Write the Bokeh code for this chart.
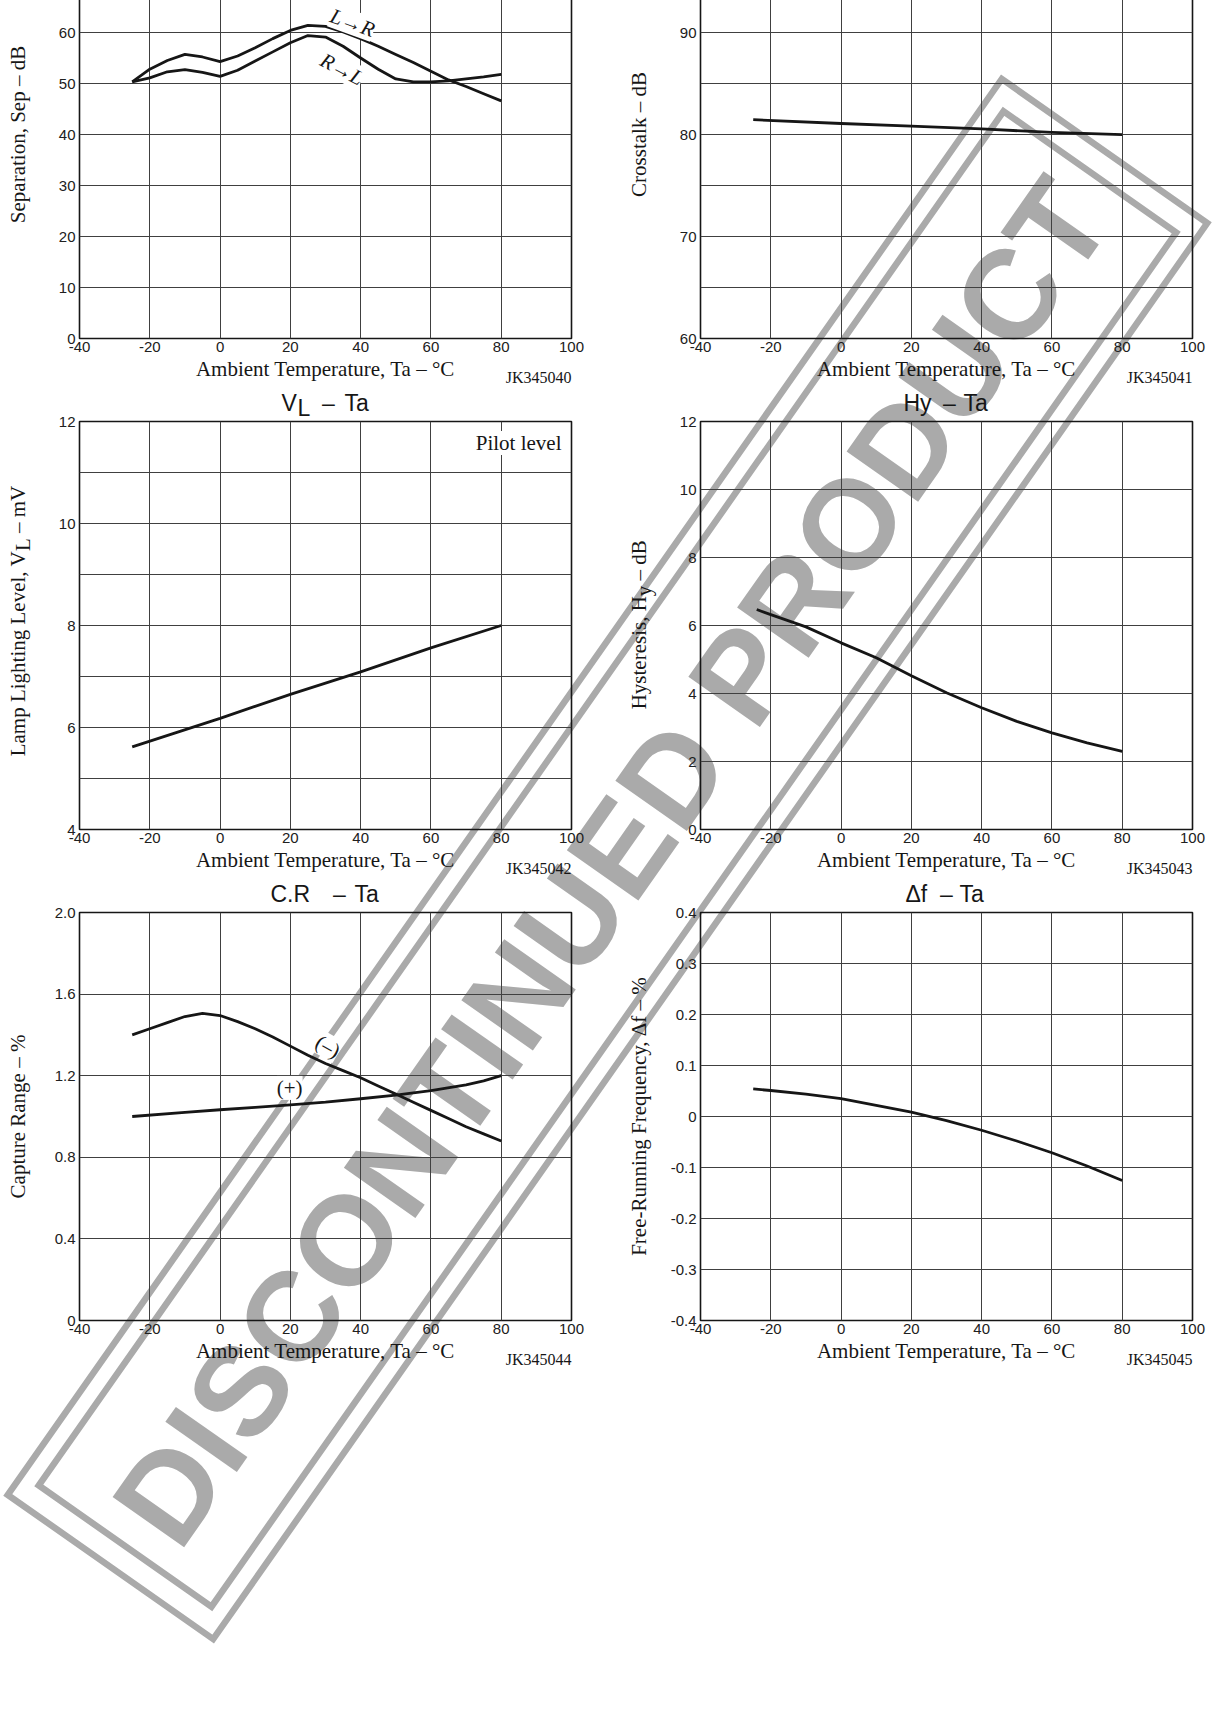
import math
import numpy as np
from bokeh.plotting import figure
from bokeh.models import Range1d, FixedTicker, Label
from bokeh.layouts import column, row
from bokeh.embed import file_html
from bokeh.resources import INLINE
from bokeh.core.properties import value

# ---------------- data ----------------
temp_ticks = [-40, -20, 0, 20, 40, 60, 80, 100]
temp_tick_labels = ["-40", "-20", "0", "20", "40", "60", "80", "100"]

# Separation (dB) vs ambient temperature
sep_temp = [-25, -20, -15, -10, -5, 0, 5, 10, 15, 20, 25, 30, 35, 40, 45, 50, 55, 60, 65, 70, 75, 80]
sep_l_to_r = [50.3, 52.8, 54.5, 55.7, 55.2, 54.3, 55.4, 57.0, 58.8, 60.4, 61.4, 61.2, 60.1, 58.8,
              57.3, 55.7, 54.1, 52.4, 50.7, 49.4, 48.0, 46.6]
sep_r_to_l = [50.3, 51.1, 52.3, 52.7, 52.2, 51.4, 52.6, 54.4, 56.2, 58.0, 59.4, 59.1, 57.3, 55.0,
              52.8, 50.9, 50.3, 50.3, 50.5, 50.9, 51.3, 51.8]
sep_label_ticks = [0, 10, 20, 30, 40, 50, 60]
sep_grid_ticks = [0, 10, 20, 30, 40, 50, 60, 70, 80]

# Crosstalk (dB)
xtalk_temp = [-25, 0, 20, 40, 60, 80]
xtalk_db = [81.45, 81.08, 80.83, 80.55, 80.2, 79.98]
xtalk_label_ticks = [60, 70, 80, 90]
xtalk_grid_ticks = [60, 65, 70, 75, 80, 85, 90, 95, 100]

# Lamp lighting level (mV)
vl_temp = [-25, 0, 20, 40, 60, 80]
vl_mv = [5.62, 6.18, 6.65, 7.09, 7.56, 8.0]
vl_label_ticks = [4, 6, 8, 10, 12]
vl_grid_ticks = [4, 5, 6, 7, 8, 9, 10, 11, 12]

# Hysteresis (dB)
hy_temp = [-24, -20, -10, 0, 10, 20, 30, 40, 50, 60, 70, 80]
hy_db = [6.47, 6.32, 5.96, 5.49, 5.05, 4.52, 4.02, 3.58, 3.18, 2.84, 2.55, 2.30]
hy_ticks = [0, 2, 4, 6, 8, 10, 12]

# Capture range (%)
cr_minus_temp = [-25, -20, -15, -10, -5, 0, 5, 10, 15, 20, 25, 30, 35, 40, 45, 50, 55, 60, 65, 70, 75, 80]
cr_minus = [1.40, 1.43, 1.46, 1.49, 1.505, 1.495, 1.465, 1.43, 1.39, 1.345, 1.30, 1.26, 1.225,
            1.19, 1.15, 1.11, 1.07, 1.03, 0.99, 0.95, 0.915, 0.88]
cr_plus_temp = [-25, -10, 0, 10, 20, 30, 40, 50, 60, 70, 75, 80]
cr_plus = [1.00, 1.02, 1.033, 1.045, 1.057, 1.07, 1.087, 1.105, 1.127, 1.155, 1.175, 1.20]
cr_ticks = [0, 0.4, 0.8, 1.2, 1.6, 2.0]
cr_tick_labels = ["0", "0.4", "0.8", "1.2", "1.6", "2.0"]

# Free-running frequency (%)
df_temp = [-25, -20, -10, 0, 10, 20, 30, 40, 50, 60, 70, 80]
df_pct = [0.054, 0.051, 0.044, 0.035, 0.022, 0.0085, -0.008, -0.027, -0.048, -0.071, -0.097, -0.1255]
df_ticks = [-0.4, -0.3, -0.2, -0.1, 0, 0.1, 0.2, 0.3, 0.4]
df_tick_labels = ["-0.4", "-0.3", "-0.2", "-0.1", "0", "0.1", "0.2", "0.3", "0.4"]

# ---------------- styling / page geometry ----------------
SANS = "Liberation Sans"
SERIF = "Liberation Serif"
INK = "#161616"
GRID = "#404040"
CURVE_W = 2.8
WM_GREY = "#aaaaaa"

PAGE_W, PAGE_H = 1216, 1722
COL_X = [0, 621]            # left edge of each chart column on the page
COL_W = [621, 595]
ROW_Y = [-105, 386, 877]    # top edge of each chart row on the page
ROW_H = 491
BORDER_L, BORDER_T, BORDER_B = 79, 35, 48
FRAME_W, FRAME_H = 492, 408


def frame_box(col, rw):
    left = COL_X[col] + BORDER_L
    top = ROW_Y[rw] + BORDER_T
    return left, top, left + FRAME_W, top + FRAME_H


def panel(col, y0, y1, label_ticks, grid_ticks, tick_labels):
    w = COL_W[col]
    p = figure(width=w, height=ROW_H, x_range=Range1d(-40, 100), y_range=Range1d(y0, y1),
               output_backend="svg", toolbar_location=None,
               min_border_left=BORDER_L, min_border_right=w - BORDER_L - FRAME_W,
               min_border_top=BORDER_T, min_border_bottom=BORDER_B,
               background_fill_color=None, border_fill_color=None,
               outline_line_color=INK, outline_line_width=1.6)
    p.xaxis.ticker = FixedTicker(ticks=temp_ticks)
    p.xgrid.ticker = FixedTicker(ticks=temp_ticks)
    p.xaxis.major_label_overrides = dict(zip(temp_ticks, temp_tick_labels))
    p.yaxis.ticker = FixedTicker(ticks=label_ticks)
    p.ygrid.ticker = FixedTicker(ticks=grid_ticks)
    if tick_labels is not None:
        p.yaxis.major_label_overrides = dict(zip(label_ticks, tick_labels))
    for ax in (p.xaxis[0], p.yaxis[0]):
        ax.axis_line_color = None
        ax.major_tick_line_color = None
        ax.minor_tick_line_color = None
        ax.major_tick_in = 0
        ax.major_tick_out = 0
        ax.minor_tick_in = 0
        ax.minor_tick_out = 0
        ax.major_label_text_font = SANS
        ax.major_label_text_font_size = "15px"
        ax.major_label_text_color = "#202020"
    p.xaxis.major_label_standoff = 3
    p.yaxis.major_label_standoff = 4
    p.xaxis.axis_label = "Ambient Temperature, Ta \u2013 \u00b0C"
    p.xaxis.axis_label_text_font = SERIF
    p.xaxis.axis_label_text_font_size = "21px"
    p.xaxis.axis_label_text_font_style = "normal"
    p.xaxis.axis_label_text_color = INK
    p.xaxis.axis_label_standoff = 2
    p.grid.grid_line_color = GRID
    p.grid.grid_line_width = 1
    return p


def note(p, x, y, text, angle=0.0, italic=False, **kw):
    p.add_layout(Label(x=x, y=y, text=text, angle=angle, text_font=SERIF,
                       text_font_size="21px", text_font_style="italic" if italic else "normal",
                       text_color=INK, background_fill_color="white",
                       text_baseline="middle", **kw))


# ---------------- page layer: stamp and surrounding texts ----------------
wm = figure(width=PAGE_W, height=PAGE_H, x_range=Range1d(0, PAGE_W), y_range=Range1d(PAGE_H, 0),
            output_backend="svg", toolbar_location=None, min_border=0,
            x_axis_type=None, y_axis_type=None, outline_line_color=None,
            background_fill_color="white", border_fill_color="white")

wm_cx, wm_cy = 607.0, 858.5
wm_angle = math.radians(54.93)
u = np.array([math.cos(wm_angle), -math.sin(wm_angle)])   # along the stamp
v = np.array([math.sin(wm_angle), math.cos(wm_angle)])    # across the stamp
for length, breadth in [(1730, 251), (1679, 211)]:
    corners = [np.array([wm_cx, wm_cy]) + a * length / 2 * u + b * breadth / 2 * v
               for a, b in [(-1, -1), (1, -1), (1, 1), (-1, 1)]]
    wm.patch([c[0] for c in corners], [c[1] for c in corners], fill_color=None,
             line_color=WM_GREY, line_width=6.5, line_join="miter")

wm_size = 127
anchor = np.array([wm_cx, wm_cy]) + 5 * v
wm.text(x=[anchor[0]], y=[anchor[1]], text=["DISCONTINUED PRODUCT"], angle=wm_angle,
        text_font=value(SANS), text_font_style="bold", text_font_size=f"{wm_size}px",
        text_color=WM_GREY, text_align="center", text_baseline="middle")


def page_text(x, y, text, font=SERIF, size=21, angle=0.0, align="left"):
    # y is the text's vertical middle (about half a cap height above the baseline)
    wm.add_layout(Label(x=x, y=y, text=text, angle=angle, text_font=font,
                        text_font_size=f"{size}px", text_color=INK,
                        text_align=align, text_baseline="middle"))


def title(col, rw, pieces):
    # pieces: (text, x offset from frame centre, drop below the title baseline, align)
    left, top, right, _ = frame_box(col, rw)
    cx = (left + right) / 2
    base = top - 10
    for text, dx, drop, align in pieces:
        page_text(cx + dx, base + drop - 0.36 * 23, text, font=SANS, size=23, align=align)


def ylabel(col, rw, pieces):
    # pieces: (text, offset up along the label, offset across it, align)
    left, top, _, bottom = frame_box(col, rw)
    cy = (top + bottom) / 2
    for text, along, across, align in pieces:
        page_text(left - 62 + across, cy - along, text, angle=math.pi / 2, align=align)


def code(col, rw, text):
    _, _, right, bottom = frame_box(col, rw)
    page_text(right, bottom + 45 - 0.36 * 16, text, size=16, align="right")


# ---- Sep - Ta ----
p_sep = panel(0, 0, 80, sep_label_ticks, sep_grid_ticks, None)
p_sep.line(sep_temp, sep_l_to_r, line_width=CURVE_W, color=INK, line_join="round")
p_sep.line(sep_temp, sep_r_to_l, line_width=CURVE_W, color=INK, line_join="round")
note(p_sep, 37.7, 61.9, "L\u2192R", angle=math.radians(-20), italic=True, text_align="center")
note(p_sep, 34.7, 52.8, "R\u2192L", angle=math.radians(-28), italic=True, text_align="center")
ylabel(0, 0, [("Separation, Sep \u2013 dB", 0, 0, "center")])
code(0, 0, "JK345040")

# ---- Crosstalk - Ta ----
p_xt = panel(1, 60, 100, xtalk_label_ticks, xtalk_grid_ticks, None)
p_xt.line(xtalk_temp, xtalk_db, line_width=CURVE_W, color=INK, line_join="round")
ylabel(1, 0, [("Crosstalk \u2013 dB", 0, 0, "center")])
code(1, 0, "JK345041")

# ---- VL - Ta ----
p_vl = panel(0, 4, 12, vl_label_ticks, vl_grid_ticks, None)
p_vl.line(vl_temp, vl_mv, line_width=CURVE_W, color=INK)
note(p_vl, 100, 12, "Pilot level", x_offset=-10, y_offset=-21.5, text_align="right")
title(0, 1, [("V", -44, 0, "left"), ("L", -28, 5, "left"),
             ("\u2013", 3, 0, "center"), ("Ta", 19, 0, "left")])
ylabel(0, 1, [("Lamp Lighting Level, V", 74.5, 0, "right"),
              ("L", 74.5, 5, "left"),
              ("\u2013 mV", 92.5, 0, "left")])
code(0, 1, "JK345042")

# ---- Hy - Ta ----
p_hy = panel(1, 0, 12, hy_ticks, hy_ticks, None)
p_hy.line(hy_temp, hy_db, line_width=CURVE_W, color=INK, line_join="round")
title(1, 1, [("Hy", -43, 0, "left"), ("\u2013", 3, 0, "center"), ("Ta", 17, 0, "left")])
ylabel(1, 1, [("Hysteresis, H", 29.3, 0, "right"),
              ("y", 29.3, 5, "left"),
              ("\u2013 dB", 45.0, 0, "left")])
code(1, 1, "JK345043")

# ---- C.R - Ta ----
p_cr = panel(0, 0, 2.0, cr_ticks, cr_ticks, cr_tick_labels)
p_cr.line(cr_minus_temp, cr_minus, line_width=CURVE_W, color=INK, line_join="round")
p_cr.line(cr_plus_temp, cr_plus, line_width=CURVE_W, color=INK, line_join="round")
note(p_cr, 30.7, 1.343, "(\u2013)", angle=math.radians(-30), text_align="center")
note(p_cr, 19.8, 1.14, "(+)", text_align="center")
title(0, 2, [("C.R", -55, 0, "left"), ("\u2013", 14, 0, "center"), ("Ta", 29, 0, "left")])
ylabel(0, 2, [("Capture Range \u2013 %", 0, 0, "center")])
code(0, 2, "JK345044")

# ---- delta f - Ta ----
p_df = panel(1, -0.4, 0.4, df_ticks, df_ticks, df_tick_labels)
p_df.line(df_temp, df_pct, line_width=CURVE_W, color=INK, line_join="round")
title(1, 2, [("\u0394f", -41, 0, "left"), ("\u2013", 0, 0, "center"), ("Ta", 13, 0, "left")])
ylabel(1, 2, [("Free-Running Frequency, \u0394f \u2013 %", 0, 0, "center")])
code(1, 2, "JK345045")

# charts sit on top of the page layer (transparent fills), shifted up so the
# top row's frames start above the page edge
charts = column(row(p_sep, p_xt), row(p_vl, p_hy), row(p_cr, p_df),
                margin=(-(PAGE_H - ROW_Y[0]), 0, PAGE_H - (3 * ROW_H + ROW_Y[0]), 0))
page = column(wm, charts)

open("out.html", "w").write(file_html(page, INLINE))
